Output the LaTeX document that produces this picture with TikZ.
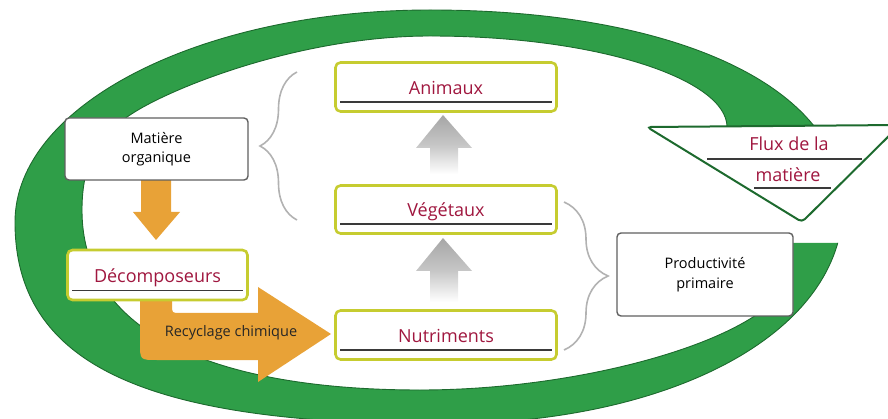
\documentclass[tikz,border=0pt]{standalone}
\usepackage{fontspec}
\setmainfont{Open Sans}
\usetikzlibrary{decorations.pathreplacing,calc}
\definecolor{ringgreen}{HTML}{2F9E48}
\definecolor{ringdark}{HTML}{1D6A2E}
\definecolor{limeb}{HTML}{C6CC30}
\definecolor{wine}{HTML}{A0173F}
\definecolor{orng}{HTML}{E8A237}
\definecolor{lineg}{HTML}{3A3A3A}
\definecolor{grayb}{HTML}{606060}
\begin{document}
\begin{tikzpicture}[x=1pt,y=-1pt,
  limebox/.style={draw=limeb, line width=2.6pt, fill=white, rounded corners=5pt, inner sep=0pt},
  graybox/.style={draw=grayb, line width=1.4pt, fill=white, rounded corners=4pt, inner sep=0pt, align=center, font=\fontsize{14.5}{19.5}\selectfont},
  bigtxt/.style={text=wine, font=\fontsize{18}{22}\selectfont, anchor=base, inner sep=0pt},
  uline/.style={draw=lineg, line width=1.5pt},
  brc/.style={draw=gray!60, line width=1.6pt, decorate},
  orangefill/.style={fill=orng},
  grayarrow/.style={top color=gray!70, bottom color=white, middle color=gray!45}
]
\useasboundingbox (0,0) rectangle (888,419);
% green ring
\begin{scope}[even odd rule]
\clip (-10,-10) rectangle (900,440) (600,127) rectangle (900,243);
\path[fill=ringgreen, draw=ringdark, line width=0.9pt]
  (430,10) .. controls (678,10) and (843,88) .. (843,205)
  .. controls (843,332) and (674,424) .. (440,424)
  .. controls (142,424) and (15,363) .. (15,222)
  .. controls (15,105) and (201,10) .. (430,10) -- cycle
  (430,36) .. controls (600,36) and (727,80) .. (727,127)
  .. controls (727,180) and (790,210) .. (790,270)
  .. controls (790,330) and (600,390) .. (420,390)
  .. controls (250,390) and (82,350) .. (82,210)
  .. controls (82,160) and (100,135) .. (130,115)
  .. controls (170,88) and (300,36) .. (430,36) -- cycle;
\end{scope}
% triangle
\draw[ringdark, line width=2pt, fill=white, rounded corners=4pt] (647,127) -- (900,125) -- (802,222) -- cycle;
\node[bigtxt] (flux1) at (789,151) {Flux de la};
\node[bigtxt] (flux2) at (788,182) {matière};
\draw[uline] (707,159) -- (862,159);
\draw[uline] (754,188) -- (831,188);
% orange arrows
\path[orangefill] (140,300) -- (140,343) .. controls (140,360) .. (157,360) -- (258,360) -- (258,382) -- (331,334) -- (258,287) -- (258,313) -- (180,313) .. controls (172,313) .. (172,305) -- (172,300) -- cycle;
\path[orangefill] (141,179) -- (141,212) -- (133,212) -- (156,240) -- (180,212) -- (171,212) -- (171,179) -- cycle;
\node[text=black!85, font=\fontsize{14.5}{18}\selectfont, inner sep=0pt] (recy) at (231,333) {Recyclage chimique};
% gray arrows
\shade[grayarrow] (443,115) -- (472,148) -- (458,148) -- (458,174) -- (430,174) -- (430,148) -- (416,148) -- cycle;
\shade[grayarrow] (443,238) -- (472,271) -- (458,271) -- (458,302) -- (430,302) -- (430,271) -- (416,271) -- cycle;
% boxes
\node[limebox, minimum width=221pt, minimum height=49pt] (anim) at (446,87) {};
\node[bigtxt] (animt) at ($(anim.center)+(0,7.5)$) {Animaux};
\node[limebox, minimum width=221pt, minimum height=48pt] (veg) at (446,209.5) {};
\node[bigtxt] (vegt) at ($(veg.center)+(0,7.5)$) {Végétaux};
\node[limebox, minimum width=221pt, minimum height=49pt] (nutr) at (446,335) {};
\node[bigtxt] (nutrt) at ($(nutr.center)+(0,7.5)$) {Nutriments};
\node[limebox, minimum width=180pt, minimum height=50pt] (dec) at (157.5,275) {};
\node[bigtxt] (dect) at ($(dec.center)+(0,8)$) {Décomposeurs};
\node[graybox, minimum width=183pt, minimum height=62pt] (mat) at (156.5,149) {Matière\\organique};
\node[graybox, minimum width=176pt, minimum height=83pt] (prod) at (705,274.5) {Productivité\\primaire};
\foreach \b in {anim,veg,nutr,dec}{
  \draw[uline] ($(\b.south west)+(6,-11)$) -- ($(\b.south east)+(-6,-11)$);
}
% braces
\draw[brc, decoration={brace, amplitude=37pt, aspect=0.5}] (297,220) -- (297,72);
\draw[brc, decoration={brace, amplitude=44pt, aspect=0.5}] (564,202) -- (564,350);
\end{tikzpicture}
\end{document}
